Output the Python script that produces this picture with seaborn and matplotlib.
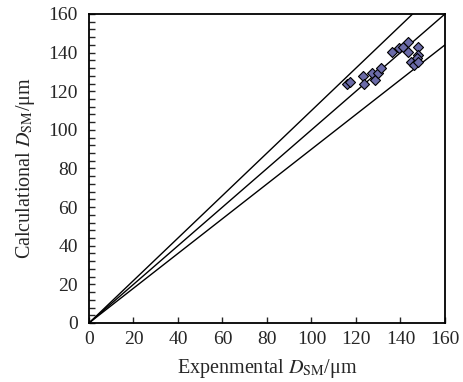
import matplotlib
matplotlib.use("Agg")
import matplotlib.pyplot as plt
import seaborn as sns
import numpy as np
import pandas as pd
from matplotlib.ticker import MultipleLocator

experimental = [116.1, 117.4, 123.3, 123.6, 127.2, 128.5, 129.7, 131.1, 136.3, 139.3,
                141.2, 143.5, 143.2, 148.0, 148.0, 147.3, 144.7, 146.2, 148.0]
calculational = [123.8, 124.6, 127.9, 123.6, 129.5, 125.8, 129.6, 132.0, 140.5, 142.6,
                 143.1, 145.7, 140.5, 142.9, 138.8, 137.1, 135.3, 133.6, 135.0]
ref_slopes = [1.1, 1.0, 0.9]
ticks = [0, 20, 40, 60, 80, 100, 120, 140, 160]

sns.set_style("white")
plt.rcParams['font.family'] = ['Liberation Serif', 'DejaVu Serif']
plt.rcParams['mathtext.fontset'] = 'stix'

fig = plt.figure(figsize=(4.64, 3.82), dpi=100)
ax = fig.add_axes([0.1918, 0.1545, 0.959 - 0.1918, 0.9634 - 0.1545])

xs = np.array([0, 160])
for s in ref_slopes:
    ax.plot(xs, s * xs, color='black', lw=1.0, zorder=1)

df = pd.DataFrame({"exp": experimental, "calc": calculational})
sns.scatterplot(data=df, x="exp", y="calc", marker="D", s=26, color="#6B6BA8",
                edgecolor="black", linewidth=0.8, ax=ax, zorder=3)

ax.set_xlim(0, 160)
ax.set_ylim(0, 160)
ax.set_xticks(ticks)
ax.set_yticks(ticks)
ax.yaxis.set_minor_locator(MultipleLocator(4))
ax.tick_params(axis='x', which='major', direction='in', length=4, width=1,
               bottom=True, top=False, labelsize=14, pad=6)
ax.tick_params(axis='y', which='both', direction='in', length=4, width=1,
               left=True, right=False, labelsize=14, pad=8)

for sp in ax.spines.values():
    sp.set_visible(True)
    sp.set_color('black')
    sp.set_linewidth(1.3)

ax.set_xlabel(r"Expenmental $D_{\rm SM}$/μm", fontsize=14.5, labelpad=6)
ax.set_ylabel(r"Calculational $D_{\rm SM}$/μm", fontsize=14.5, labelpad=8)

fig.savefig("out.png", dpi=100)
